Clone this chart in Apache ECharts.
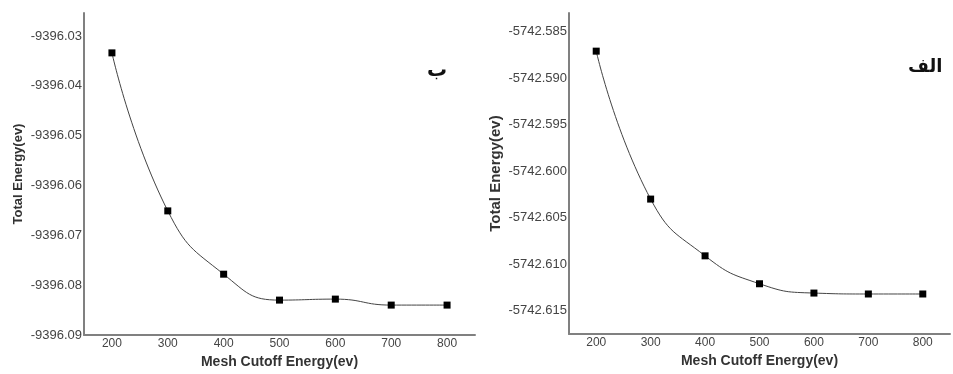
<!DOCTYPE html>
<html>
<head>
<meta charset="utf-8">
<script src="https://cdn.jsdelivr.net/npm/echarts@6/dist/echarts.min.js"></script>
<style>html,body{margin:0;padding:0;background:#fff}#c{width:953px;height:374px}</style>
</head>
<body>
<div id="c"></div>
<script>
// Data
var cutoffs = [200, 300, 400, 500, 600, 700, 800];
var energyB = [-9396.0334, -9396.0651, -9396.0778, -9396.0830, -9396.0828, -9396.0840, -9396.0840];
var energyAlef = [-5742.5871, -5742.6030, -5742.6091, -5742.6121, -5742.6131, -5742.6132, -5742.6132];
var xTickLabels = ['200', '300', '400', '500', '600', '700', '800'];
var yTicksB = ['-9396.03', '-9396.04', '-9396.05', '-9396.06', '-9396.07', '-9396.08', '-9396.09'];
var yTicksAlef = ['-5742.585', '-5742.590', '-5742.595', '-5742.600', '-5742.605', '-5742.610', '-5742.615'];
var xName = 'Mesh Cutoff Energy(ev)';
var yName = 'Total Energy(ev)';
var panelLabels = ['ب', 'الف'];

var chart = echarts.init(document.getElementById('c'));
var font = 'Liberation Sans, Arial, sans-serif';
var axisLineStyle = { color: '#808080', width: 2 };

function pairs(ys) { return cutoffs.map(function (x, i) { return [x, ys[i]]; }); }
function xFmt(v) {
  var s = String(Math.round(v));
  return xTickLabels.indexOf(s) >= 0 ? s : '';
}
function yFmtFactory(list, dec) {
  return function (v) {
    var s = v.toFixed(dec);
    return list.indexOf(s) >= 0 ? s : '';
  };
}

function xAxis(gi, nameGap) {
  return {
    gridIndex: gi, type: 'value', min: 150, max: 850, interval: 50,
    name: xName, nameLocation: 'middle', nameGap: nameGap,
    nameTextStyle: { fontFamily: font, fontWeight: 'bold', fontSize: 14, color: '#333' },
    axisLine: { show: true, lineStyle: axisLineStyle },
    axisTick: { show: false }, splitLine: { show: false },
    axisLabel: { formatter: xFmt, fontFamily: font, fontSize: 12, color: '#444', margin: 3 }
  };
}

var option = {
  animation: false,
  backgroundColor: '#fff',
  grid: [
    { left: 84, top: 13, width: 391, height: 323 },
    { left: 569, top: 13, width: 391, height: 321 }
  ],
  xAxis: [xAxis(0, 20), xAxis(1, 19)],
  yAxis: [
    {
      gridIndex: 0, type: 'value', min: -9396.09, max: -9396.0254, interval: 0.01,
      name: yName, nameLocation: 'middle', nameGap: 59, nameRotate: 90,
      nameTextStyle: { fontFamily: font, fontWeight: 'bold', fontSize: 13, color: '#333' },
      axisLine: { show: true, lineStyle: axisLineStyle },
      axisTick: { show: false }, splitLine: { show: false },
      axisLabel: { formatter: yFmtFactory(yTicksB, 2), fontFamily: font, fontSize: 13, color: '#444', margin: 2, showMaxLabel: false }
    },
    {
      gridIndex: 1, type: 'value', min: -5742.6175, max: -5742.583, interval: 0.0025,
      name: yName, nameLocation: 'middle', nameGap: 66, nameRotate: 90,
      nameTextStyle: { fontFamily: font, fontWeight: 'bold', fontSize: 15, color: '#333' },
      axisLine: { show: true, lineStyle: axisLineStyle },
      axisTick: { show: false }, splitLine: { show: false },
      axisLabel: { formatter: yFmtFactory(yTicksAlef, 3), fontFamily: font, fontSize: 13, color: '#444', margin: 2, showMaxLabel: false }
    }
  ],
  series: [
    {
      type: 'line', xAxisIndex: 0, yAxisIndex: 0, data: pairs(energyB),
      smooth: 0.5, symbol: 'rect', symbolSize: 7,
      lineStyle: { color: '#444', width: 1 }, itemStyle: { color: '#000' }
    },
    {
      type: 'line', xAxisIndex: 1, yAxisIndex: 1, data: pairs(energyAlef),
      smooth: 0.5, symbol: 'rect', symbolSize: 7,
      lineStyle: { color: '#444', width: 1 }, itemStyle: { color: '#000' }
    }
  ],
  graphic: [
    { type: 'text', left: 427, top: 61, style: { text: panelLabels[0], font: 'bold 20px "DejaVu Sans", sans-serif', fill: '#111' } },
    { type: 'text', left: 908, top: 58, style: { text: panelLabels[1], font: 'bold 18px "DejaVu Sans", sans-serif', fill: '#111' } }
  ]
};
chart.setOption(option);
</script>
</body>
</html>
